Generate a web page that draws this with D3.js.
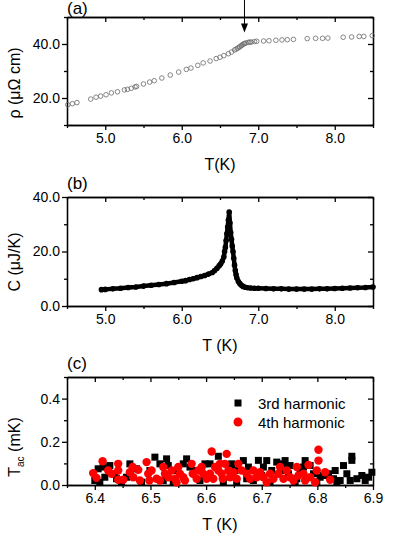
<!DOCTYPE html>
<html>
<head>
<meta charset="utf-8">
<script src="https://cdn.jsdelivr.net/npm/d3@7"></script>
<style>
body { margin: 0; background: #fff; }
svg { display: block; font-family: "Liberation Sans", Arial, sans-serif; }
.axis path, .axis line { stroke: #000; stroke-width: 1.3; }
.axis text { font-size: 14px; fill: #000; font-family: "Liberation Sans", Arial, sans-serif; }
</style>
</head>
<body>
<div id="chart"></div>
<script>
/* global d3 */

// (a) resistivity
const rhoT = [4.51, 4.57, 4.63, 4.81, 4.88, 4.94, 5.01, 5.08, 5.16, 5.25, 5.29, 5.34, 5.39, 5.41,
  5.50, 5.58, 5.64, 5.74, 5.85, 5.96, 6.06, 6.12, 6.21, 6.28, 6.37, 6.45, 6.50, 6.55, 6.61,
  6.65, 6.69, 6.71, 6.73, 6.75, 6.76, 6.78, 6.79, 6.81, 6.82, 6.84, 6.87, 6.89, 6.91, 6.95, 6.98,
  7.07, 7.14, 7.23, 7.31, 7.38, 7.46, 7.64, 7.75, 7.84, 7.91, 8.11, 8.22, 8.32, 8.38, 8.49];
const rhoVal = [17.5, 17.9, 18.3, 19.6, 20.3, 20.7, 21.2, 21.9, 22.3, 23.0, 23.2, 23.6, 24.1, 24.3,
  25.2, 25.9, 26.4, 27.4, 28.5, 29.6, 30.6, 31.1, 32.1, 33.0, 33.7, 34.6, 35.1, 35.7, 36.4,
  37.0, 37.8, 38.1, 38.4, 38.8, 39.0, 39.4, 39.7, 40.0, 40.2, 40.4, 40.6, 40.7, 40.7, 40.9, 41.0,
  41.1, 41.2, 41.4, 41.5, 41.6, 41.7, 42.0, 42.1, 42.1, 42.2, 42.5, 42.6, 42.8, 42.8, 43.1];

// (b) heat capacity
const heatT = [4.95, 5.0, 5.1, 5.2, 5.3, 5.4, 5.5, 5.6, 5.7, 5.8, 5.9, 6.0, 6.05, 6.1, 6.15, 6.2,
  6.25, 6.3, 6.35, 6.4, 6.43, 6.46, 6.49, 6.51, 6.53, 6.55, 6.56, 6.57, 6.58, 6.59, 6.6, 6.61,
  6.62, 6.63, 6.64, 6.65, 6.66, 6.67, 6.68, 6.69, 6.7, 6.71, 6.72, 6.74, 6.76, 6.78, 6.8, 6.83,
  6.86, 6.9, 6.95, 7.0, 7.1, 7.2, 7.3, 7.4, 7.5, 7.6, 7.7, 7.8, 7.9, 8.0, 8.1, 8.2, 8.3, 8.4, 8.5];
const heatC = [6.0, 6.1, 6.3, 6.5, 6.8, 7.0, 7.3, 7.6, 7.9, 8.2, 8.6, 9.1, 9.3, 9.7, 10.0, 10.4,
  10.8, 11.2, 11.7, 12.3, 13.0, 13.8, 14.8, 15.5, 16.5, 18.0, 20.0, 21.5, 24.0, 26.5, 29.0, 31.5,
  34.5, 30.5, 27.0, 24.5, 22.0, 20.0, 17.5, 15.0, 13.0, 11.5, 10.3, 9.0, 8.2, 7.6, 7.2, 6.9,
  6.7, 6.6, 6.5, 6.5, 6.4, 6.3, 6.3, 6.2, 6.2, 6.2, 6.2, 6.3, 6.3, 6.4, 6.5, 6.6, 6.7, 6.8, 7.0];

// (c) Tac, 3rd and 4th harmonic
const thirdT = [6.400, 6.406, 6.415, 6.427, 6.436, 6.448, 6.457, 6.475, 6.484, 6.508, 6.517, 6.529,
  6.532, 6.547, 6.565, 6.571, 6.589, 6.592, 6.598, 6.622, 6.646, 6.652, 6.667, 6.676, 6.685, 6.694,
  6.703, 6.709, 6.718, 6.727, 6.736, 6.742, 6.751, 6.760, 6.769, 6.778, 6.787, 6.799, 6.811, 6.820,
  6.829, 6.832, 6.841, 6.847, 6.853, 6.862, 6.862, 6.871, 6.880, 6.886, 6.892, 6.898, 6.835, 6.859,
  6.655, 6.673, 6.700, 6.715, 6.739, 6.748, 6.763, 6.775, 6.793, 6.805, 6.631, 6.607, 6.583, 6.559,
  6.541, 6.523, 6.499, 6.463, 6.439, 6.418, 6.409];
const thirdV = [0.021, 0.075, 0.083, 0.090, 0.052, 0.013, 0.036, 0.075, 0.013, 0.129, 0.098, 0.121,
  0.090, 0.067, 0.121, 0.083, 0.021, 0.067, 0.098, 0.133, 0.098, 0.067, 0.113, 0.083, 0.021, 0.114,
  0.083, 0.113, 0.067, 0.106, 0.067, 0.113, 0.090, 0.013, 0.067, 0.113, 0.090, 0.013, 0.044, 0.052,
  0.029, 0.067, 0.021, 0.090, 0.052, 0.133, 0.114, 0.029, 0.044, 0.021, 0.036, 0.059, 0.013, 0.021,
  0.013, 0.029, 0.044, 0.013, 0.098, 0.052, 0.029, 0.083, 0.052, 0.036, 0.013, 0.098, 0.067, 0.098,
  0.013, 0.021, 0.067, 0.098, 0.029, 0.036, 0.013];
const fourthT = [6.397, 6.403, 6.414, 6.424, 6.430, 6.442, 6.442, 6.442, 6.451, 6.463, 6.468, 6.469,
  6.478, 6.481, 6.493, 6.496, 6.498, 6.502, 6.511, 6.523, 6.526, 6.532, 6.538, 6.544, 6.550, 6.553,
  6.559, 6.562, 6.574, 6.576, 6.583, 6.595, 6.607, 6.610, 6.613, 6.616, 6.622, 6.625, 6.628, 6.630,
  6.634, 6.637, 6.640, 6.643, 6.655, 6.658, 6.664, 6.673, 6.679, 6.685, 6.691, 6.703, 6.715, 6.721,
  6.730, 6.733, 6.739, 6.745, 6.751, 6.763, 6.766, 6.775, 6.778, 6.784, 6.787, 6.796, 6.799, 6.802,
  6.802, 6.814, 6.823, 6.586, 6.592, 6.601, 6.547, 6.517, 6.649, 6.697, 6.709, 6.757];
const fourthV = [0.055, 0.033, 0.110, 0.067, 0.052, 0.098, 0.067, 0.024, 0.024, 0.059, 0.083, 0.036,
  0.070, 0.021, 0.106, 0.052, 0.021, 0.067, 0.029, 0.083, 0.052, 0.036, 0.067, 0.029, 0.083, 0.052,
  0.036, 0.021, 0.098, 0.052, 0.029, 0.052, 0.052, 0.155, 0.029, 0.083, 0.067, 0.098, 0.052, 0.029,
  0.098, 0.144, 0.067, 0.036, 0.029, 0.098, 0.067, 0.052, 0.029, 0.067, 0.036, 0.036, 0.052, 0.029,
  0.052, 0.083, 0.029, 0.067, 0.036, 0.083, 0.044, 0.052, 0.021, 0.093, 0.036, 0.013, 0.067, 0.113,
  0.163, 0.059, 0.024, 0.067, 0.083, 0.029, 0.013, 0.021, 0.059, 0.059, 0.013, 0.021];
const seriesNames = ["3rd harmonic", "4th harmonic"];

const W = 414, H = 535;
const L = 67, R = 373;

const svg = d3.select("#chart").append("svg")
    .attr("width", W)
    .attr("height", H);
svg.append("rect").attr("width", W).attr("height", H).attr("fill", "#fff");

// draws the boxed frame with origin-style ticks
function panel(p) {
    const x = d3.scaleLinear().domain(p.xDom).range([L, R]);
    const y = d3.scaleLinear().domain(p.yDom).range([p.bottom, p.top]);
    const g = svg.append("g");

    const ax = (gen, tx, ty) => g.append("g").attr("class", "axis")
        .attr("transform", `translate(${tx},${ty})`).call(gen);

    ax(d3.axisBottom(x).tickValues(p.xMajor).tickFormat(p.xFmt).tickSize(5).tickPadding(3).tickSizeOuter(0), 0, p.bottom);
    ax(d3.axisBottom(x).tickValues(p.xMinor).tickFormat("").tickSize(3).tickSizeOuter(0), 0, p.bottom);
    ax(d3.axisTop(x).tickValues(p.xMajor).tickFormat("").tickSize(-5).tickSizeOuter(0), 0, p.top);
    ax(d3.axisTop(x).tickValues(p.xMinor).tickFormat("").tickSize(-3).tickSizeOuter(0), 0, p.top);
    ax(d3.axisLeft(y).tickValues(p.yMajor).tickFormat(p.yFmt).tickSize(5).tickPadding(2).tickSizeOuter(0), L, 0);
    ax(d3.axisLeft(y).tickValues(p.yMinor).tickFormat("").tickSize(3).tickSizeOuter(0), L, 0);
    ax(d3.axisRight(y).tickValues(p.yMajor).tickFormat("").tickSize(-5).tickSizeOuter(0), R, 0);
    ax(d3.axisRight(y).tickValues(p.yMinor).tickFormat("").tickSize(-3).tickSizeOuter(0), R, 0);

    // panel letter
    g.append("text").attr("x", L).attr("y", p.letterY)
        .attr("font-size", 17).text(p.letter);
    // x title
    g.append("text").attr("x", 220).attr("y", p.bottom + 45)
        .attr("text-anchor", "middle").attr("font-size", 16).text(p.xTitle);
    return { g, x, y };
}

const f1 = d3.format(".1f");

// ---- (a)
const a = panel({
    top: 17, bottom: 125, letter: "(a)", letterY: 14, xTitle: "T(K)",
    xDom: [4.5, 8.5], xMajor: [5, 6, 7, 8], xMinor: [4.5, 5.5, 6.5, 7.5, 8.5], xFmt: f1,
    yDom: [10, 50], yMajor: [20, 40], yMinor: [10, 30, 50], yFmt: f1
});
a.g.append("text")
    .attr("transform", `translate(20,83) rotate(-90)`)
    .attr("text-anchor", "middle").attr("font-size", 16)
    .text("ρ (μΩ cm)");
a.g.selectAll("circle.pt").data(rhoT).join("circle")
    .attr("class", "pt")
    .attr("cx", d => a.x(d))
    .attr("cy", (d, i) => a.y(rhoVal[i]))
    .attr("r", 2.3)
    .attr("fill", "none")
    .attr("stroke", "#6a6a6a")
    .attr("stroke-width", 0.8);

// arrow marking the transition
const arrowT = 6.82, arrowTip = 44.3;
const ax0 = a.x(arrowT), ay = a.y(arrowTip);
a.g.append("line").attr("x1", ax0).attr("x2", ax0).attr("y1", 0).attr("y2", ay - 6)
    .attr("stroke", "#000").attr("stroke-width", 1);
a.g.append("path")
    .attr("d", `M${ax0 - 3.5},${ay - 9}L${ax0 + 3.5},${ay - 9}L${ax0},${ay}Z`)
    .attr("fill", "#000");

// ---- (b)
const b = panel({
    top: 197, bottom: 306, letter: "(b)", letterY: 189, xTitle: "T (K)",
    xDom: [4.5, 8.5], xMajor: [5, 6, 7, 8], xMinor: [4.5, 5.5, 6.5, 7.5, 8.5], xFmt: f1,
    yDom: [0, 40], yMajor: [0, 20, 40], yMinor: [10, 30], yFmt: f1
});
b.g.append("text")
    .attr("transform", `translate(20,262) rotate(-90)`)
    .attr("text-anchor", "middle").attr("font-size", 16)
    .text("C (μJ/K)");
const heat = heatT.map((t, i) => [t, heatC[i]]);
b.g.append("path")
    .datum(heat)
    .attr("d", d3.line().x(d => b.x(d[0])).y(d => b.y(d[1])))
    .attr("fill", "none")
    .attr("stroke", "#000")
    .attr("stroke-width", 4.5)
    .attr("stroke-linejoin", "round")
    .attr("stroke-linecap", "round");
b.g.selectAll("circle.pt").data(heat).join("circle")
    .attr("class", "pt")
    .attr("cx", d => b.x(d[0]))
    .attr("cy", d => b.y(d[1]))
    .attr("r", 2.8)
    .attr("fill", "#000");

// ---- (c)
const c = panel({
    top: 377, bottom: 485, letter: "(c)", letterY: 369, xTitle: "T (K)",
    xDom: [6.35, 6.9], xMajor: [6.4, 6.5, 6.6, 6.7, 6.8, 6.9],
    xMinor: [6.35, 6.45, 6.55, 6.65, 6.75, 6.85], xFmt: f1,
    yDom: [0, 0.5], yMajor: [0, 0.2, 0.4], yMinor: [0.1, 0.3, 0.5], yFmt: f1
});
const yt = c.g.append("text")
    .attr("transform", `translate(20,447) rotate(-90)`)
    .attr("text-anchor", "middle").attr("font-size", 16);
yt.append("tspan").text("T");
yt.append("tspan").attr("font-size", 10).attr("dy", 4).text("ac");
yt.append("tspan").attr("dy", -4).text(" (mK)");

const sq = 7;
c.g.selectAll("rect.h3").data(thirdT).join("rect")
    .attr("class", "h3")
    .attr("x", d => c.x(d) - sq / 2)
    .attr("y", (d, i) => c.y(thirdV[i]) - sq / 2)
    .attr("width", sq).attr("height", sq)
    .attr("fill", "#000");
c.g.selectAll("circle.h4").data(fourthT).join("circle")
    .attr("class", "h4")
    .attr("cx", d => c.x(d))
    .attr("cy", (d, i) => c.y(fourthV[i]))
    .attr("r", 4.2)
    .attr("fill", "#ff0000");

// legend
const lg = c.g.append("g").attr("transform", "translate(238,403)");
lg.append("rect").attr("x", -sq / 2).attr("y", -sq / 2).attr("width", sq).attr("height", sq).attr("fill", "#000");
lg.append("circle").attr("cx", 0).attr("cy", 19).attr("r", 4.5).attr("fill", "#ff0000");
lg.selectAll("text").data(seriesNames).join("text")
    .attr("x", 20)
    .attr("y", (d, i) => 5.5 + i * 19)
    .attr("font-size", 15)
    .text(d => d);
</script>
</body>
</html>
